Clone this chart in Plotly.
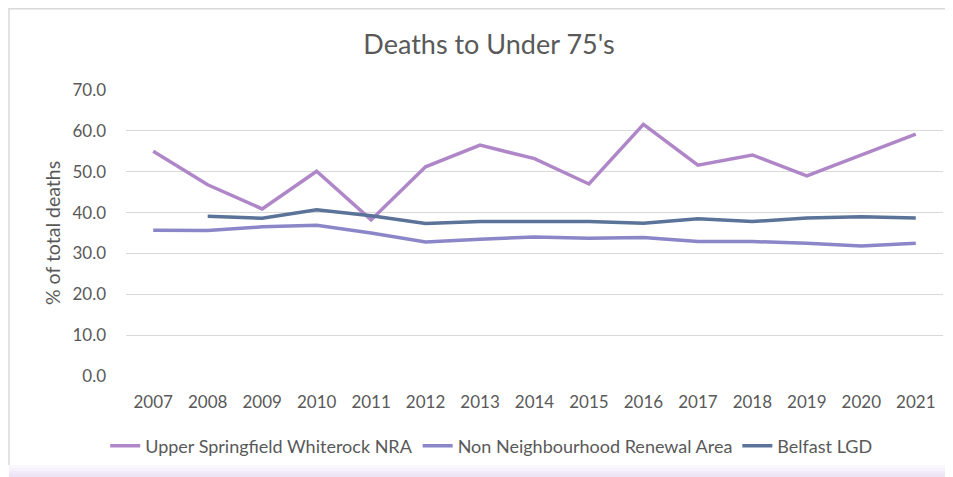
import plotly.graph_objects as go

years = [str(y) for y in range(2007, 2022)]

upper_springfield = [55.0, 46.8, 40.9, 50.1, 38.2, 51.2, 56.5, 53.2, 47.0, 61.6, 51.6, 54.1, 49.0, 54.0, 59.2]
non_nra = [35.7, 35.6, 36.5, 36.9, 35.0, 32.8, 33.5, 34.0, 33.7, 33.9, 32.9, 32.9, 32.5, 31.8, 32.5]
belfast_years = years[1:]
belfast_lgd = [39.1, 38.6, 40.7, 39.2, 37.3, 37.8, 37.8, 37.8, 37.4, 38.5, 37.8, 38.7, 39.0, 38.7]

series_names = ["Upper Springfield Whiterock NRA", "Non Neighbourhood Renewal Area", "Belfast LGD"]
colors = ["#AF87C9", "#8A86C7", "#5B7399"]
y_ticks = [0, 10, 20, 30, 40, 50, 60, 70]

font = "Lato, 'Open Sans', sans-serif"
grey = "#595959"

fig = go.Figure()
fig.add_scatter(x=years, y=upper_springfield, name=series_names[0], mode="lines",
                line=dict(color=colors[0], width=3.5))
fig.add_scatter(x=years, y=non_nra, name=series_names[1], mode="lines",
                line=dict(color=colors[1], width=3.5))
fig.add_scatter(x=belfast_years, y=belfast_lgd, name=series_names[2], mode="lines",
                line=dict(color=colors[2], width=3.5))

fig.update_xaxes(
    type="category", categoryorder="array", categoryarray=years, range=[-0.5, 14.5],
    showgrid=False, showline=False, zeroline=False, ticks="", ticklabelstandoff=14,
    tickfont=dict(size=17, color=grey, family=font),
)
fig.update_yaxes(
    range=[0, 70], tickvals=y_ticks, tickformat=".1f",
    showgrid=True, gridcolor="#D9D9D9", gridwidth=1.3, zeroline=False, showline=False,
    tickfont=dict(size=17, color=grey, family=font), ticks="", ticklabelstandoff=19,
    title=dict(text="% of total deaths", font=dict(size=19.5, color=grey, family=font), standoff=6),
)

# chart card border (left + top only) and bottom shadow strip
fig.add_shape(type="path", xref="paper", yref="paper",
              path="M -0.1432,-0.311 L -0.1432,1.284 L 1.06,1.284",
              line=dict(color="#D9D9D9", width=1.5), layer="below")
for i, alpha in enumerate([0.25, 0.45, 0.65, 0.85]):
    fig.add_shape(type="rect", xref="paper", yref="paper",
                  x0=-0.1432, x1=1.06, y0=-0.311 - i * 0.0105, y1=-0.311 - (i + 1) * 0.0105,
                  line=dict(width=0), fillcolor=f"rgba(234,224,245,{alpha})", layer="below")

fig.update_layout(
    width=945, height=469, autosize=False,
    paper_bgcolor="white", plot_bgcolor="white",
    margin=dict(l=118, r=10, t=82, b=101),
    title=dict(text="Deaths to Under 75's", x=0.509, xanchor="center", y=0.923, yanchor="middle",
               font=dict(size=27, color=grey, family=font)),
    legend=dict(orientation="h", x=0.447, xanchor="center", y=-0.245, yanchor="middle",
                font=dict(size=18, color=grey, family=font), itemwidth=30,
                tracegroupgap=0, bgcolor="rgba(0,0,0,0)"),
    showlegend=True,
)

fig.write_html("out.html")
